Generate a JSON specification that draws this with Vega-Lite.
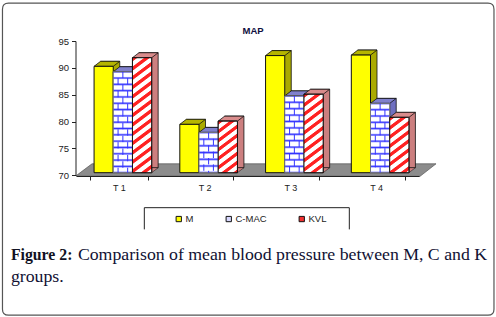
{"$schema":"https://vega.github.io/schema/vega-lite/v6.json","width":496,"height":317,"autosize":{"type":"none"},"padding":0,"background":"#ffffff","config":{"view":{"stroke":null},"font":"Liberation Sans"},
"layer":[
{"data":{"values":[{"n":"frame"}]},"mark":{"type":"point","filled":false,"opacity":1,"size":4,"stroke":"#555555","strokeWidth":1.2,"xOffset":43.6,"shape":"M-239.75,-156 L239.75,-156 Q245.75,-156 245.75,-150 L245.75,150 Q245.75,156 239.75,156 L-239.75,156 Q-245.75,156 -245.75,150 L-245.75,-150 Q-245.75,-156 -239.75,-156 Z"},"encoding":{"x":{"datum":"T 2","type":"nominal","scale":{"type":"band","domain":["T 1","T 2","T 3","T 4"],"range":[76,419],"paddingInner":0.328,"paddingOuter":0.164},"axis":{"title":null,"offset":-141,"tickBand":"extent","labelAngle":0,"labelFontSize":9,"labelColor":"#222222","domainColor":"#222222","tickColor":"#222222","tickSize":4,"labelPadding":3,"zindex":1}},"y":{"datum":73,"type":"quantitative","scale":{"domain":[70,95],"range":[175.3,41],"zero":false,"nice":false},"axis":{"title":null,"offset":-75.5,"values":[70,75,80,85,90,95],"grid":false,"labelFontSize":9.5,"labelColor":"#222222","domainColor":"#222222","tickColor":"#222222","tickSize":4,"labelPadding":3,"zindex":1}}}},
{"data":{"values":[{"n":"floor"}]},"mark":{"type":"point","filled":true,"opacity":1,"size":4,"fill":"#8c8c8c","stroke":"#555555","strokeWidth":0.7,"shape":"M-128.6,0.5 L-112.6,-11.5 L231.4,-11.5 L215.4,1 Z"},"encoding":{"x":{"datum":"T 2","type":"nominal"},"y":{"datum":70,"type":"quantitative"}}},
{"data":{"values":[{"n":"legendbox"}]},"mark":{"type":"point","filled":false,"opacity":1,"size":4,"stroke":"#222222","strokeWidth":1,"shape":"M-60.3,11.1 L-60.3,-10.6 L144.7,-10.6 L144.7,11.1"},"encoding":{"x":{"datum":"T 2","type":"nominal"},"y":{"datum":62,"type":"quantitative"}}},
{"data":{"values":[{"n":"MAP"}]},"mark":{"type":"text","text":"MAP","fontSize":9.5,"fontWeight":"bold","color":"#101040","dx":48.4},"encoding":{"x":{"datum":"T 2","type":"nominal"},"y":{"datum":96.9,"type":"quantitative"}}},
{"data":{"values":[{"n":"c1"}]},"mark":{"type":"text","text":"Figure 2:","font":"Liberation Serif","fontSize":15.8,"fontWeight":"bold","color":"#111122","align":"left","dx":-108},"encoding":{"x":{"datum":"T 1","type":"nominal"},"y":{"datum":55.15,"type":"quantitative"}}},
{"data":{"values":[{"n":"c2"}]},"mark":{"type":"text","text":"Comparison of mean blood pressure between M, C and K","font":"Liberation Serif","fontSize":17.75,"color":"#111133","align":"left","dx":-41},"encoding":{"x":{"datum":"T 1","type":"nominal"},"y":{"datum":55.15,"type":"quantitative"}}},
{"data":{"values":[{"n":"c3"}]},"mark":{"type":"text","text":"groups.","font":"Liberation Serif","fontSize":17.75,"color":"#111133","align":"left","dx":-108},"encoding":{"x":{"datum":"T 1","type":"nominal"},"y":{"datum":51.0,"type":"quantitative"}}},
{"data":{"values":[
{"t":"T 1","g":"M","v":89.8},{"t":"T 1","g":"C-MAC","v":88.8},{"t":"T 1","g":"KVL","v":91.4},
{"t":"T 2","g":"M","v":79.0},{"t":"T 2","g":"C-MAC","v":77.5},{"t":"T 2","g":"KVL","v":79.6},
{"t":"T 3","g":"M","v":91.8},{"t":"T 3","g":"C-MAC","v":84.3},{"t":"T 3","g":"KVL","v":84.6},
{"t":"T 4","g":"M","v":91.9},{"t":"T 4","g":"C-MAC","v":82.9},{"t":"T 4","g":"KVL","v":80.3}]},
"resolve":{"scale":{"xOffset":"independent"}},
"encoding":{"x":{"field":"t","type":"nominal"},"y":{"field":"v","type":"quantitative"}},
"layer":[
{"mark":{"type":"bar","yOffset":-7.6,"y2Offset":-7.6,"stroke":"#111111","strokeWidth":0.8},"encoding":{"xOffset":{"field":"g","type":"nominal","scale":{"domain":["M","C-MAC","KVL"],"range":[10.5,68.1],"paddingInner":0,"paddingOuter":0}},"y2":{"datum":70},"fill":{"condition":[{"test":"datum.g==='M'","value":"#aaaa00"},{"test":"datum.g==='C-MAC'","value":"#6f6fc0"}],"value":"#cc7f7f"}}},
{"mark":{"type":"point","filled":true,"opacity":1,"size":4,"yOffset":-2.6,"stroke":"#111111","strokeWidth":0.5,"shape":"M9.6,0 L16.1,-5 L9.6,-5 Z"},"encoding":{"xOffset":{"field":"g","type":"nominal","scale":{"type":"band","domain":["M","C-MAC","KVL"],"range":[4,61.6],"paddingInner":0,"paddingOuter":0}},"y":{"datum":70,"type":"quantitative"},"fill":{"condition":[{"test":"datum.g==='M'","value":"#aaaa00"},{"test":"datum.g==='C-MAC'","value":"#6f6fc0"}],"value":"#cc7f7f"}}},
{"mark":{"type":"point","filled":true,"opacity":1,"size":4,"yOffset":-2.6,"stroke":"#111111","strokeWidth":0.8,"shape":"M-9.6,0 L9.6,0 L16.1,-5 L-3.1,-5 Z"},"encoding":{"xOffset":{"field":"g","type":"nominal","scale":{"type":"band","domain":["M","C-MAC","KVL"],"range":[4,61.6],"paddingInner":0,"paddingOuter":0}},"fill":{"condition":[{"test":"datum.g==='M'","value":"#b5b500"},{"test":"datum.g==='C-MAC'","value":"#8080cc"}],"value":"#d98c8c"}}},
{"mark":{"type":"bar","yOffset":-2.6,"y2Offset":-2.6,"stroke":"#111111","strokeWidth":1},"encoding":{"xOffset":{"field":"g","type":"nominal","scale":{"domain":["M","C-MAC","KVL"],"range":[4,61.6],"paddingInner":0,"paddingOuter":0}},"y2":{"datum":70},"fill":{"field":"g","type":"nominal","scale":{"domain":["M","C-MAC","KVL"],"range":["#ffff00","#d8d8ff","#f03030"]},"legend":{"title":null,"orient":"none","legendX":174,"legendY":214,"direction":"horizontal","columns":3,"symbolType":"square","symbolSize":28,"symbolStrokeColor":"#111111","symbolStrokeWidth":1,"labelFontSize":9.5,"labelColor":"#222222","columnPadding":30,"labelOffset":2,"padding":0}}}},
{"transform":[{"filter":"datum.g==='C-MAC'&&datum.t==='T 1'"}],"mark":{"type":"bar","yOffset":-2.6,"y2Offset":-2.6,"stroke":"#777777","strokeWidth":1,"fill":{"gradient":"linear","x1":0,"y1":1,"x2":0,"y2":0,"stops":[{"offset":0,"color":"#33f"},{"offset":0.016,"color":"#fff"},{"offset":0.047,"color":"#fff"},{"offset":0.0625,"color":"#33f"},{"offset":0.078,"color":"#fff"},{"offset":0.109,"color":"#fff"},{"offset":0.125,"color":"#33f"},{"offset":0.141,"color":"#fff"},{"offset":0.172,"color":"#fff"},{"offset":0.1875,"color":"#33f"},{"offset":0.203,"color":"#fff"},{"offset":0.234,"color":"#fff"},{"offset":0.25,"color":"#33f"},{"offset":0.266,"color":"#fff"},{"offset":0.297,"color":"#fff"},{"offset":0.3125,"color":"#33f"},{"offset":0.328,"color":"#fff"},{"offset":0.359,"color":"#fff"},{"offset":0.375,"color":"#33f"},{"offset":0.391,"color":"#fff"},{"offset":0.422,"color":"#fff"},{"offset":0.4375,"color":"#33f"},{"offset":0.453,"color":"#fff"},{"offset":0.484,"color":"#fff"},{"offset":0.5,"color":"#33f"},{"offset":0.516,"color":"#fff"},{"offset":0.547,"color":"#fff"},{"offset":0.5625,"color":"#33f"},{"offset":0.578,"color":"#fff"},{"offset":0.609,"color":"#fff"},{"offset":0.625,"color":"#33f"},{"offset":0.641,"color":"#fff"},{"offset":0.672,"color":"#fff"},{"offset":0.6875,"color":"#33f"},{"offset":0.703,"color":"#fff"},{"offset":0.734,"color":"#fff"},{"offset":0.75,"color":"#33f"},{"offset":0.766,"color":"#fff"},{"offset":0.797,"color":"#fff"},{"offset":0.8125,"color":"#33f"},{"offset":0.828,"color":"#fff"},{"offset":0.859,"color":"#fff"},{"offset":0.875,"color":"#33f"},{"offset":0.891,"color":"#fff"},{"offset":0.922,"color":"#fff"},{"offset":0.9375,"color":"#33f"},{"offset":0.953,"color":"#fff"},{"offset":0.984,"color":"#fff"},{"offset":1,"color":"#33f"}]}},"encoding":{"xOffset":{"field":"g","type":"nominal","scale":{"domain":["M","C-MAC","KVL"],"range":[4,61.6],"paddingInner":0,"paddingOuter":0}},"y2":{"datum":70}}},
{"transform":[{"filter":"datum.g==='C-MAC'&&datum.t==='T 2'"}],"mark":{"type":"bar","yOffset":-2.6,"y2Offset":-2.6,"stroke":"#777777","strokeWidth":1,"fill":{"gradient":"linear","x1":0,"y1":1,"x2":0,"y2":0,"stops":[{"offset":0,"color":"#33f"},{"offset":0.042,"color":"#fff"},{"offset":0.125,"color":"#fff"},{"offset":0.167,"color":"#33f"},{"offset":0.208,"color":"#fff"},{"offset":0.292,"color":"#fff"},{"offset":0.333,"color":"#33f"},{"offset":0.375,"color":"#fff"},{"offset":0.458,"color":"#fff"},{"offset":0.5,"color":"#33f"},{"offset":0.542,"color":"#fff"},{"offset":0.625,"color":"#fff"},{"offset":0.667,"color":"#33f"},{"offset":0.708,"color":"#fff"},{"offset":0.792,"color":"#fff"},{"offset":0.833,"color":"#33f"},{"offset":0.875,"color":"#fff"},{"offset":0.958,"color":"#fff"},{"offset":1,"color":"#33f"}]}},"encoding":{"xOffset":{"field":"g","type":"nominal","scale":{"domain":["M","C-MAC","KVL"],"range":[4,61.6],"paddingInner":0,"paddingOuter":0}},"y2":{"datum":70}}},
{"transform":[{"filter":"datum.g==='C-MAC'&&datum.t==='T 3'"}],"mark":{"type":"bar","yOffset":-2.6,"y2Offset":-2.6,"stroke":"#777777","strokeWidth":1,"fill":{"gradient":"linear","x1":0,"y1":1,"x2":0,"y2":0,"stops":[{"offset":0,"color":"#33f"},{"offset":0.021,"color":"#fff"},{"offset":0.062,"color":"#fff"},{"offset":0.083,"color":"#33f"},{"offset":0.104,"color":"#fff"},{"offset":0.146,"color":"#fff"},{"offset":0.167,"color":"#33f"},{"offset":0.188,"color":"#fff"},{"offset":0.229,"color":"#fff"},{"offset":0.25,"color":"#33f"},{"offset":0.271,"color":"#fff"},{"offset":0.312,"color":"#fff"},{"offset":0.333,"color":"#33f"},{"offset":0.354,"color":"#fff"},{"offset":0.396,"color":"#fff"},{"offset":0.417,"color":"#33f"},{"offset":0.438,"color":"#fff"},{"offset":0.479,"color":"#fff"},{"offset":0.5,"color":"#33f"},{"offset":0.521,"color":"#fff"},{"offset":0.562,"color":"#fff"},{"offset":0.583,"color":"#33f"},{"offset":0.604,"color":"#fff"},{"offset":0.646,"color":"#fff"},{"offset":0.667,"color":"#33f"},{"offset":0.688,"color":"#fff"},{"offset":0.729,"color":"#fff"},{"offset":0.75,"color":"#33f"},{"offset":0.771,"color":"#fff"},{"offset":0.812,"color":"#fff"},{"offset":0.833,"color":"#33f"},{"offset":0.854,"color":"#fff"},{"offset":0.896,"color":"#fff"},{"offset":0.917,"color":"#33f"},{"offset":0.938,"color":"#fff"},{"offset":0.979,"color":"#fff"},{"offset":1,"color":"#33f"}]}},"encoding":{"xOffset":{"field":"g","type":"nominal","scale":{"domain":["M","C-MAC","KVL"],"range":[4,61.6],"paddingInner":0,"paddingOuter":0}},"y2":{"datum":70}}},
{"transform":[{"filter":"datum.g==='C-MAC'&&datum.t==='T 4'"}],"mark":{"type":"bar","yOffset":-2.6,"y2Offset":-2.6,"stroke":"#777777","strokeWidth":1,"fill":{"gradient":"linear","x1":0,"y1":1,"x2":0,"y2":0,"stops":[{"offset":0,"color":"#33f"},{"offset":0.023,"color":"#fff"},{"offset":0.068,"color":"#fff"},{"offset":0.091,"color":"#33f"},{"offset":0.114,"color":"#fff"},{"offset":0.159,"color":"#fff"},{"offset":0.182,"color":"#33f"},{"offset":0.205,"color":"#fff"},{"offset":0.25,"color":"#fff"},{"offset":0.273,"color":"#33f"},{"offset":0.295,"color":"#fff"},{"offset":0.341,"color":"#fff"},{"offset":0.364,"color":"#33f"},{"offset":0.386,"color":"#fff"},{"offset":0.432,"color":"#fff"},{"offset":0.455,"color":"#33f"},{"offset":0.477,"color":"#fff"},{"offset":0.523,"color":"#fff"},{"offset":0.545,"color":"#33f"},{"offset":0.568,"color":"#fff"},{"offset":0.614,"color":"#fff"},{"offset":0.636,"color":"#33f"},{"offset":0.659,"color":"#fff"},{"offset":0.705,"color":"#fff"},{"offset":0.727,"color":"#33f"},{"offset":0.75,"color":"#fff"},{"offset":0.795,"color":"#fff"},{"offset":0.818,"color":"#33f"},{"offset":0.841,"color":"#fff"},{"offset":0.886,"color":"#fff"},{"offset":0.909,"color":"#33f"},{"offset":0.932,"color":"#fff"},{"offset":0.977,"color":"#fff"},{"offset":1,"color":"#33f"}]}},"encoding":{"xOffset":{"field":"g","type":"nominal","scale":{"domain":["M","C-MAC","KVL"],"range":[4,61.6],"paddingInner":0,"paddingOuter":0}},"y2":{"datum":70}}},
{"transform":[{"filter":"datum.g==='C-MAC'"}],"mark":{"type":"rule","yOffset":-2.6,"y2Offset":-2.6,"stroke":"#33f","strokeWidth":1,"strokeDash":[6.4,6.4]},"encoding":{"xOffset":{"field":"g","type":"nominal","scale":{"domain":["M","C-MAC","KVL"],"range":[4,61.6],"paddingInner":0,"paddingOuter":0}},"y2":{"datum":70}}},
{"transform":[{"filter":"datum.g==='C-MAC'"}],"mark":{"type":"rule","yOffset":-2.6,"y2Offset":-2.6,"stroke":"#33f","strokeWidth":1,"strokeDash":[6.4,6.4],"strokeDashOffset":6.4},"encoding":{"xOffset":{"field":"g","type":"nominal","scale":{"domain":["M","C-MAC","KVL"],"range":[-0.8,56.8],"paddingInner":0,"paddingOuter":0}},"y2":{"datum":70}}},
{"transform":[{"filter":"datum.g==='C-MAC'"}],"mark":{"type":"rule","yOffset":-2.6,"y2Offset":-2.6,"stroke":"#33f","strokeWidth":1,"strokeDash":[6.4,6.4],"strokeDashOffset":6.4},"encoding":{"xOffset":{"field":"g","type":"nominal","scale":{"domain":["M","C-MAC","KVL"],"range":[8.8,66.4],"paddingInner":0,"paddingOuter":0}},"y2":{"datum":70}}},
{"transform":[{"filter":"datum.g==='KVL'&&datum.t==='T 1'"}],"mark":{"type":"bar","yOffset":-2.6,"y2Offset":-2.6,"stroke":"#111111","strokeWidth":1,"fill":{"gradient":"linear","x1":0,"y1":0,"x2":0.15,"y2":1.2,"stops":[{"offset":0,"color":"#f22"},{"offset":0.023,"color":"#f22"},{"offset":0.03,"color":"#fff"},{"offset":0.06,"color":"#fff"},{"offset":0.067,"color":"#f22"},{"offset":0.09,"color":"#f22"},{"offset":0.097,"color":"#fff"},{"offset":0.127,"color":"#fff"},{"offset":0.133,"color":"#f22"},{"offset":0.156,"color":"#f22"},{"offset":0.163,"color":"#fff"},{"offset":0.193,"color":"#fff"},{"offset":0.2,"color":"#f22"},{"offset":0.223,"color":"#f22"},{"offset":0.23,"color":"#fff"},{"offset":0.26,"color":"#fff"},{"offset":0.267,"color":"#f22"},{"offset":0.29,"color":"#f22"},{"offset":0.297,"color":"#fff"},{"offset":0.327,"color":"#fff"},{"offset":0.333,"color":"#f22"},{"offset":0.356,"color":"#f22"},{"offset":0.363,"color":"#fff"},{"offset":0.393,"color":"#fff"},{"offset":0.4,"color":"#f22"},{"offset":0.423,"color":"#f22"},{"offset":0.43,"color":"#fff"},{"offset":0.46,"color":"#fff"},{"offset":0.467,"color":"#f22"},{"offset":0.49,"color":"#f22"},{"offset":0.497,"color":"#fff"},{"offset":0.527,"color":"#fff"},{"offset":0.533,"color":"#f22"},{"offset":0.556,"color":"#f22"},{"offset":0.563,"color":"#fff"},{"offset":0.593,"color":"#fff"},{"offset":0.6,"color":"#f22"},{"offset":0.623,"color":"#f22"},{"offset":0.63,"color":"#fff"},{"offset":0.66,"color":"#fff"},{"offset":0.667,"color":"#f22"},{"offset":0.69,"color":"#f22"},{"offset":0.697,"color":"#fff"},{"offset":0.727,"color":"#fff"},{"offset":0.733,"color":"#f22"},{"offset":0.756,"color":"#f22"},{"offset":0.763,"color":"#fff"},{"offset":0.793,"color":"#fff"},{"offset":0.8,"color":"#f22"},{"offset":0.823,"color":"#f22"},{"offset":0.83,"color":"#fff"},{"offset":0.86,"color":"#fff"},{"offset":0.867,"color":"#f22"},{"offset":0.89,"color":"#f22"},{"offset":0.897,"color":"#fff"},{"offset":0.927,"color":"#fff"},{"offset":0.933,"color":"#f22"},{"offset":0.956,"color":"#f22"},{"offset":0.963,"color":"#fff"},{"offset":0.993,"color":"#fff"}]}},"encoding":{"xOffset":{"field":"g","type":"nominal","scale":{"domain":["M","C-MAC","KVL"],"range":[4,61.6],"paddingInner":0,"paddingOuter":0}},"y2":{"datum":70}}},
{"transform":[{"filter":"datum.g==='KVL'&&datum.t==='T 2'"}],"mark":{"type":"bar","yOffset":-2.6,"y2Offset":-2.6,"stroke":"#111111","strokeWidth":1,"fill":{"gradient":"linear","x1":0,"y1":0,"x2":0.335,"y2":1.2,"stops":[{"offset":0,"color":"#f22"},{"offset":0.047,"color":"#f22"},{"offset":0.061,"color":"#fff"},{"offset":0.122,"color":"#fff"},{"offset":0.135,"color":"#f22"},{"offset":0.182,"color":"#f22"},{"offset":0.196,"color":"#fff"},{"offset":0.257,"color":"#fff"},{"offset":0.27,"color":"#f22"},{"offset":0.317,"color":"#f22"},{"offset":0.331,"color":"#fff"},{"offset":0.392,"color":"#fff"},{"offset":0.405,"color":"#f22"},{"offset":0.452,"color":"#f22"},{"offset":0.466,"color":"#fff"},{"offset":0.527,"color":"#fff"},{"offset":0.54,"color":"#f22"},{"offset":0.587,"color":"#f22"},{"offset":0.601,"color":"#fff"},{"offset":0.662,"color":"#fff"},{"offset":0.675,"color":"#f22"},{"offset":0.722,"color":"#f22"},{"offset":0.736,"color":"#fff"},{"offset":0.797,"color":"#fff"},{"offset":0.81,"color":"#f22"},{"offset":0.857,"color":"#f22"},{"offset":0.871,"color":"#fff"},{"offset":0.932,"color":"#fff"},{"offset":0.945,"color":"#f22"},{"offset":0.992,"color":"#f22"}]}},"encoding":{"xOffset":{"field":"g","type":"nominal","scale":{"domain":["M","C-MAC","KVL"],"range":[4,61.6],"paddingInner":0,"paddingOuter":0}},"y2":{"datum":70}}},
{"transform":[{"filter":"datum.g==='KVL'&&datum.t==='T 3'"}],"mark":{"type":"bar","yOffset":-2.6,"y2Offset":-2.6,"stroke":"#111111","strokeWidth":1,"fill":{"gradient":"linear","x1":0,"y1":0,"x2":0.22,"y2":1.2,"stops":[{"offset":0,"color":"#f22"},{"offset":0.033,"color":"#f22"},{"offset":0.043,"color":"#fff"},{"offset":0.086,"color":"#fff"},{"offset":0.095,"color":"#f22"},{"offset":0.128,"color":"#f22"},{"offset":0.138,"color":"#fff"},{"offset":0.181,"color":"#fff"},{"offset":0.19,"color":"#f22"},{"offset":0.223,"color":"#f22"},{"offset":0.233,"color":"#fff"},{"offset":0.276,"color":"#fff"},{"offset":0.285,"color":"#f22"},{"offset":0.318,"color":"#f22"},{"offset":0.328,"color":"#fff"},{"offset":0.371,"color":"#fff"},{"offset":0.38,"color":"#f22"},{"offset":0.413,"color":"#f22"},{"offset":0.423,"color":"#fff"},{"offset":0.466,"color":"#fff"},{"offset":0.475,"color":"#f22"},{"offset":0.508,"color":"#f22"},{"offset":0.518,"color":"#fff"},{"offset":0.561,"color":"#fff"},{"offset":0.57,"color":"#f22"},{"offset":0.603,"color":"#f22"},{"offset":0.613,"color":"#fff"},{"offset":0.656,"color":"#fff"},{"offset":0.665,"color":"#f22"},{"offset":0.698,"color":"#f22"},{"offset":0.708,"color":"#fff"},{"offset":0.751,"color":"#fff"},{"offset":0.76,"color":"#f22"},{"offset":0.793,"color":"#f22"},{"offset":0.803,"color":"#fff"},{"offset":0.846,"color":"#fff"},{"offset":0.855,"color":"#f22"},{"offset":0.888,"color":"#f22"},{"offset":0.898,"color":"#fff"},{"offset":0.941,"color":"#fff"},{"offset":0.95,"color":"#f22"},{"offset":0.983,"color":"#f22"},{"offset":0.993,"color":"#fff"}]}},"encoding":{"xOffset":{"field":"g","type":"nominal","scale":{"domain":["M","C-MAC","KVL"],"range":[4,61.6],"paddingInner":0,"paddingOuter":0}},"y2":{"datum":70}}},
{"transform":[{"filter":"datum.g==='KVL'&&datum.t==='T 4'"}],"mark":{"type":"bar","yOffset":-2.6,"y2Offset":-2.6,"stroke":"#111111","strokeWidth":1,"fill":{"gradient":"linear","x1":0,"y1":0,"x2":0.312,"y2":1.2,"stops":[{"offset":0,"color":"#f22"},{"offset":0.045,"color":"#f22"},{"offset":0.058,"color":"#fff"},{"offset":0.115,"color":"#fff"},{"offset":0.128,"color":"#f22"},{"offset":0.173,"color":"#f22"},{"offset":0.186,"color":"#fff"},{"offset":0.243,"color":"#fff"},{"offset":0.256,"color":"#f22"},{"offset":0.301,"color":"#f22"},{"offset":0.314,"color":"#fff"},{"offset":0.371,"color":"#fff"},{"offset":0.384,"color":"#f22"},{"offset":0.429,"color":"#f22"},{"offset":0.442,"color":"#fff"},{"offset":0.499,"color":"#fff"},{"offset":0.512,"color":"#f22"},{"offset":0.557,"color":"#f22"},{"offset":0.57,"color":"#fff"},{"offset":0.627,"color":"#fff"},{"offset":0.64,"color":"#f22"},{"offset":0.685,"color":"#f22"},{"offset":0.698,"color":"#fff"},{"offset":0.755,"color":"#fff"},{"offset":0.768,"color":"#f22"},{"offset":0.813,"color":"#f22"},{"offset":0.826,"color":"#fff"},{"offset":0.883,"color":"#fff"},{"offset":0.896,"color":"#f22"},{"offset":0.941,"color":"#f22"},{"offset":0.954,"color":"#fff"}]}},"encoding":{"xOffset":{"field":"g","type":"nominal","scale":{"domain":["M","C-MAC","KVL"],"range":[4,61.6],"paddingInner":0,"paddingOuter":0}},"y2":{"datum":70}}}
]}
]}
